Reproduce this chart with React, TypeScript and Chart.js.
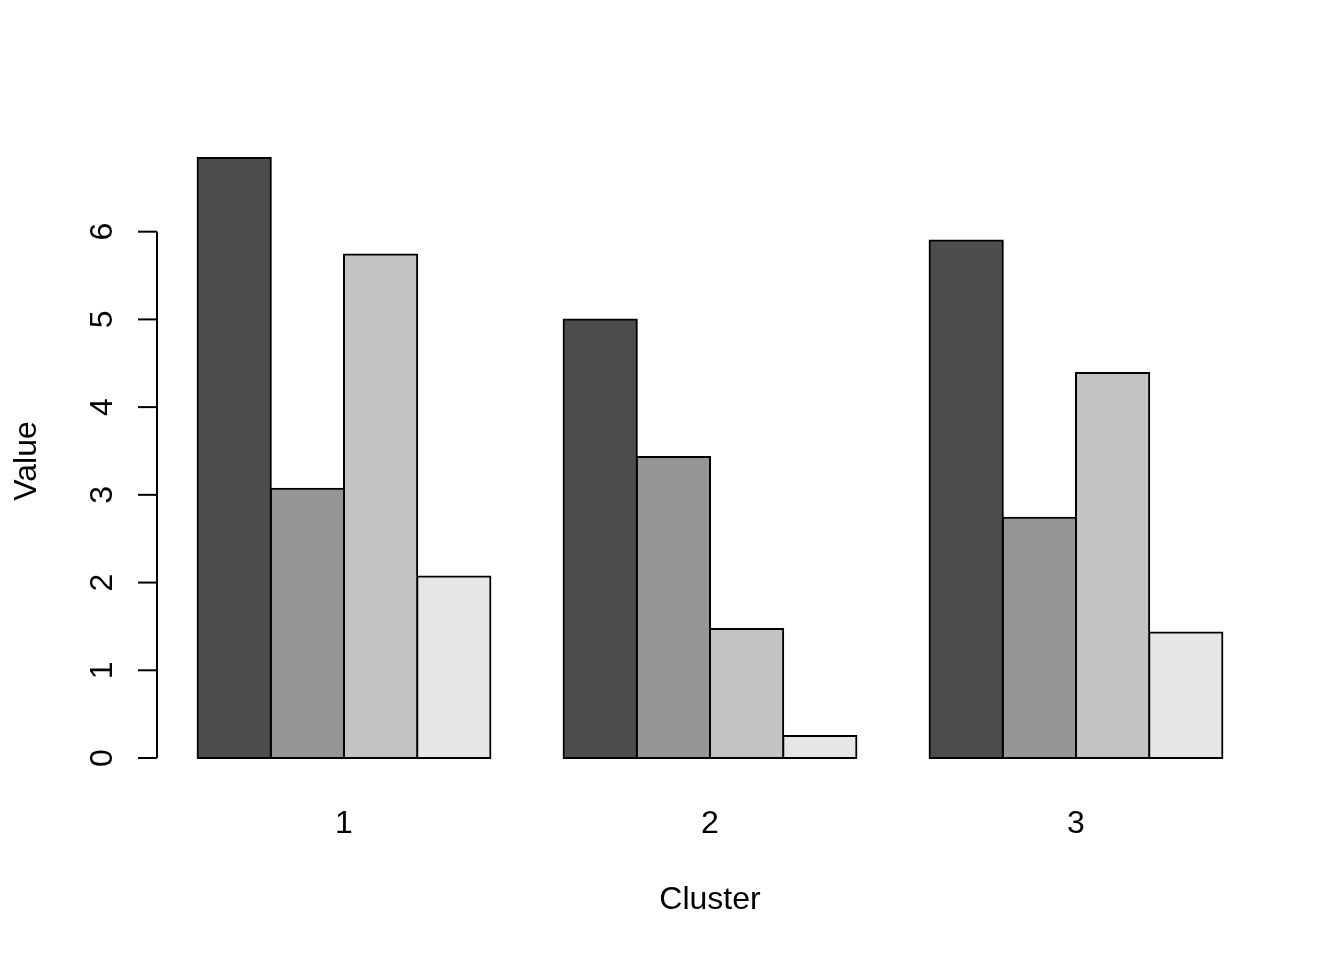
import React, { useEffect, useRef } from "react";
import { Chart, registerables } from "chart.js";

Chart.register(...registerables);

const categories = ["1", "2", "3"];
const series1 = [6.84, 5.0, 5.9];
const series2 = [3.07, 3.43, 2.74];
const series3 = [5.74, 1.47, 4.39];
const series4 = [2.07, 0.25, 1.43];
const yTicks = [0, 1, 2, 3, 4, 5, 6];
const colors = ["#4D4D4D", "#969696", "#C3C3C3", "#E6E6E6"];
const xTitle = "Cluster";
const yTitle = "Value";

const FONT = '32px "Liberation Sans", Arial, sans-serif';

const axesPlugin = {
  id: "rAxes",
  afterDraw(chart: any) {
    const ctx = chart.ctx;
    const y = chart.scales.y;
    const x = chart.scales.x;
    ctx.save();
    ctx.strokeStyle = "#000";
    ctx.lineWidth = 2;
    ctx.lineCap = "butt";
    const axisX = 157;
    const y0 = y.getPixelForValue(yTicks[0]);
    const y1 = y.getPixelForValue(yTicks[yTicks.length - 1]);
    ctx.beginPath();
    ctx.moveTo(axisX, y0);
    ctx.lineTo(axisX, y1);
    ctx.stroke();
    ctx.font = FONT;
    ctx.fillStyle = "#000";
    for (const t of yTicks) {
      const py = y.getPixelForValue(t);
      ctx.beginPath();
      ctx.moveTo(axisX, py);
      ctx.lineTo(axisX - 19, py);
      ctx.stroke();
      ctx.save();
      ctx.translate(112, py);
      ctx.rotate(-Math.PI / 2);
      ctx.textAlign = "center";
      ctx.textBaseline = "alphabetic";
      ctx.fillText(String(t), 0, 0);
      ctx.restore();
    }
    categories.forEach((c, i) => {
      const px = x.getPixelForValue(i);
      ctx.textAlign = "center";
      ctx.textBaseline = "alphabetic";
      ctx.fillText(c, px, 833);
    });
    ctx.textAlign = "center";
    ctx.fillText(xTitle, 710, 909);
    ctx.save();
    ctx.translate(36, 461);
    ctx.rotate(-Math.PI / 2);
    ctx.textAlign = "center";
    ctx.textBaseline = "alphabetic";
    ctx.fillText(yTitle, 0, 0);
    ctx.restore();
    ctx.restore();
  },
};

export default function App() {
  const ref = useRef<HTMLCanvasElement>(null);
  useEffect(() => {
    if (!ref.current) return;
    const all = [series1, series2, series3, series4];
    const maxV = Math.max(...all.flat());
    const ext = maxV * 0.04;
    const chart = new Chart(ref.current, {
      type: "bar",
      data: {
        labels: categories,
        datasets: all.map((d, i) => ({
          label: "s" + (i + 1),
          data: d,
          backgroundColor: colors[i],
          borderColor: "#000",
          borderWidth: 2,
          borderSkipped: false,
          inflateAmount: 1,
          barPercentage: 1,
          categoryPercentage: 0.8,
        })),
      },
      options: {
        animation: false,
        responsive: false,
        maintainAspectRatio: false,
        layout: { padding: { left: 161, right: 85, top: 134, bottom: 178 } },
        plugins: { legend: { display: false }, tooltip: { enabled: false } },
        scales: {
          x: { display: false, offset: true },
          y: { display: false, min: -ext, max: maxV + ext },
        },
      },
      plugins: [axesPlugin],
    });
    return () => chart.destroy();
  }, []);
  return (
    <div style={{ position: "fixed", left: 0, top: 0, width: 1344, height: 960, background: "#fff" }}>
      <canvas ref={ref} width={1344} height={960} style={{ width: 1344, height: 960 }} />
    </div>
  );
}
